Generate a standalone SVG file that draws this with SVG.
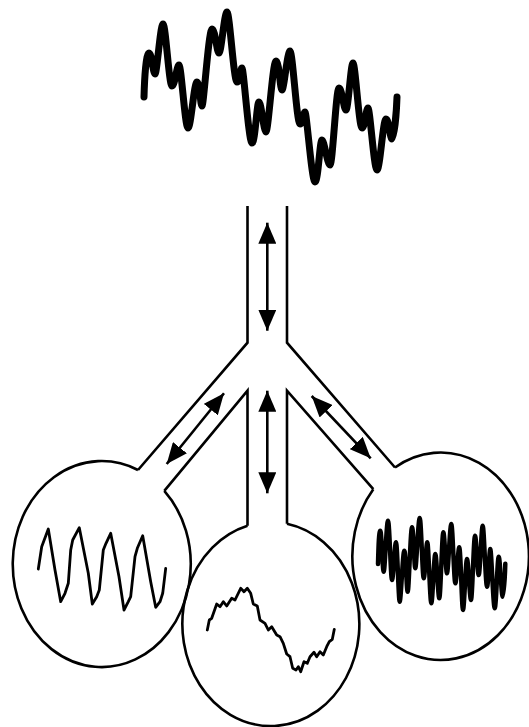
<svg xmlns="http://www.w3.org/2000/svg" width="529" height="727" viewBox="0 0 529 727">
  <defs>
    <marker id="head" viewBox="0 0 21 18" refX="21" refY="9" markerWidth="21" markerHeight="18" markerUnits="userSpaceOnUse" orient="auto-start-reverse">
      <path d="M0 0 L21 9 L0 18 Z" fill="#000"/>
    </marker>
    <style>
      .wall { fill: none; stroke: #000; stroke-width: 2.6; stroke-linejoin: miter; }
      .arrow { fill: none; stroke: #000; stroke-width: 2.6; marker-start: url(#head); marker-end: url(#head); }
      .wave { fill: none; stroke: #000; stroke-linecap: round; stroke-linejoin: round; }
    </style>
  </defs>
  <rect width="529" height="727" fill="#fff"/>

  <!-- composite signal entering the manifold -->
  <g id="source">
    <path class="wave" stroke-width="7" d="M144 97 C144.5 78 146 53 149 53
      S153 74 155 74 S160.3 24 163 24 S169 86 172 86 S176.7 65 179 65
      S185 128 188 128 S194 82 197 82 S200.3 106 202 106 S208.7 29 212 29
      S216.7 53 219 53 S224.3 12 227 12 S233.7 82 237 82 S240.3 68 242 68
      S248.7 143 252 143 S256.7 102 259 102 S263.7 132 266 132 S272.7 61 276 61
      S280 90 282 90 S287.3 51 290 51 S296.7 124 300 124 S303.3 112 305 112
      S311.7 182 315 182 S319.7 140 322 140 S327.3 165 330 165 S336 88 339 88
      S343.7 110 346 110 S350.7 63 353 63 S359 128 362 128 S366 108 368 108
      S374 170 377 170 S383 119 386 119 S390 139 392 139 S396.5 112 397 97"/>
  </g>

  <!-- branching pipe walls -->
  <g id="manifold">
    <path class="wall" d="M247.5 206 V342.7 L138 470"/>
    <path class="wall" d="M287 206 V342.7 L395 467.5"/>
    <path class="wall" d="M164.3 490.8 L247.5 390.7 V525.7"/>
    <path class="wall" d="M373.3 489.2 L287 390.7 V523.8"/>
  </g>

  <!-- left chamber: low band -->
  <g id="chamber-left">
    <path class="wall" d="M138 470 A89 103 0 1 0 164.3 490.8"/>
    <polyline class="wave" stroke-width="2.8" points="38.3,569 41.7,546.7 48.3,529 55,570 60.7,601.7 65,593.3 68.3,583.3 70.7,550 72.7,540 79.3,527.7 88.3,573.3 92.3,604 96.7,596.7 99.3,590 103.3,550 106,543.3 110.7,533.3 119,576.7 124,610 128.3,601.7 130.7,596.7 135,556.7 137.3,548.3 142.7,535.7 150.7,581.7 155.7,607.3 160,601.7 162.7,593.3 165.7,568.3"/>
  </g>

  <!-- centre chamber: slow drift -->
  <g id="chamber-center">
    <path class="wall" d="M247.5 525.7 A88.5 102 0 1 0 287 523.8"/>
    <polyline class="wave" stroke-width="2.8" points="207.3,630 209.3,620 211.7,618.3 216.7,604 220,606.7 223.3,601.7 226.7,606 231.7,598.3 235,600 240.7,588.3 244,591.7 247.3,588.3 250.7,593.3 253.3,604 257.3,606 260,620 265,623.3 268.3,630 271.7,626.7 276.7,635 280,636.7 283.3,643.3 286.7,654 290,656.7 292.7,668.3 296,670 298.3,666.7 300.7,671.7 304,661.7 307.3,663.3 310,656.7 314,652.3 316.7,656.7 320,651.7 323.3,655 326.7,646.7 329.3,641.7 332.3,639.3 334.3,629.3"/>
  </g>

  <!-- right chamber: high band -->
  <g id="chamber-right">
    <path class="wall" d="M395 467.5 A88.3 103.7 0 1 1 373.3 489.2"/>
    <path class="wave" stroke-width="4.5" d="M378 564 C378.5 545 379 530.7 380.3 530.7
      S382.5 571.7 383.7 571.7 S386.5 520.7 388 520.7 S390.7 580 392 580
      S394.7 542.3 396 542.3 S398.5 601.7 399.7 601.7 S402.8 550.7 404.3 550.7
      S406.5 591.7 407.7 591.7 S410.5 527.3 412 527.3 S414.2 568.3 415.3 568.3
      S418.2 518 419.7 518 S422.4 578.3 423.7 578.3 S426.1 542.3 427.3 542.3
      S430 603.3 431.3 603.3 S434 554 435.3 554 S438 598.3 439.3 598.3
      S442 532.3 443.3 532.3 S445.8 573.3 447 573.3 S449.9 524 451.3 524
      S454 583.3 455.3 583.3 S458 547.3 459.3 547.3 S461.8 610 463 610
      S465.7 559 467 559 S469.7 600 471 600 S473.7 535.7 475 535.7
      S477.4 575 478.7 575 S481.4 525.7 482.7 525.7 S485.6 586.7 487 586.7
      S489.2 549 490.3 549 S493.2 608.3 494.7 608.3 S497.4 556.7 498.7 556.7
      S501.4 596.7 502.7 596.7 S505 575 505.3 563.7"/>
  </g>

  <!-- two-way flow arrows -->
  <g id="connectors">
    <line class="arrow" x1="267.3" y1="222.7" x2="267.3" y2="330.7"/>
    <line class="arrow" x1="267.3" y1="390.7" x2="267.3" y2="493.3"/>
    <line class="arrow" x1="224" y1="393.3" x2="166.7" y2="464"/>
    <line class="arrow" x1="311.7" y1="396" x2="370.7" y2="458.3"/>
  </g>
</svg>
